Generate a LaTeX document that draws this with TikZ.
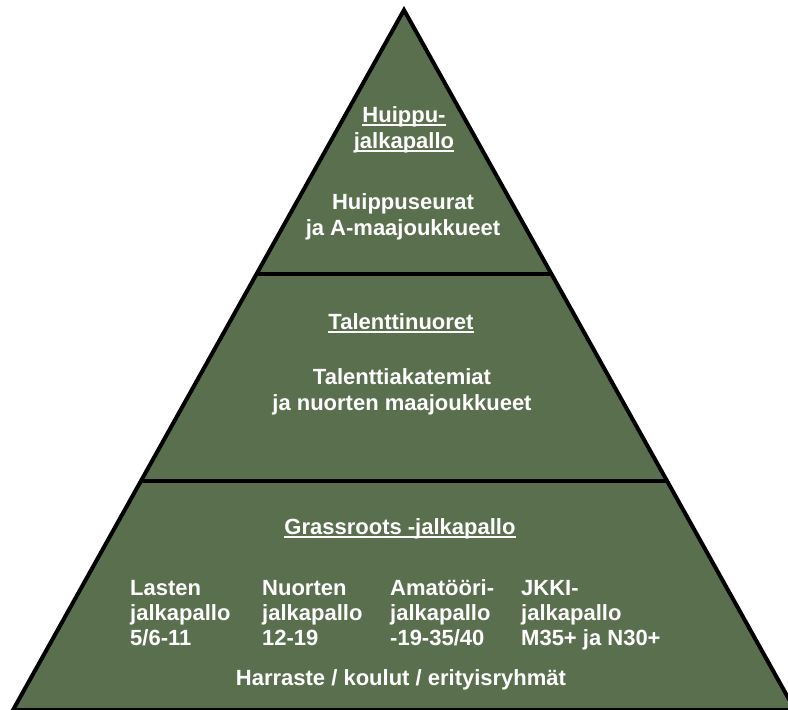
\documentclass[tikz,border=0pt]{standalone}
\usepackage{fontspec}
\setmainfont{Liberation Sans}
\usetikzlibrary{calc}
\definecolor{fieldgreen}{RGB}{90,111,77}
\newsavebox{\ulbuf}
\newcommand{\ulword}[1]{\sbox{\ulbuf}{#1}\rlap{\rule[-4pt]{\wd\ulbuf}{1.8pt}}\usebox{\ulbuf}}
\begin{document}
\begin{tikzpicture}
[x=1pt,y=-1pt,
every node/.style={text=white,inner sep=0pt,font=\bfseries\fontsize{22}{26}\selectfont},
tier/.style={anchor=base,align=center},
group/.style={anchor=base west,align=left,font=\bfseries\fontsize{22}{25}\selectfont}]
\useasboundingbox (0,0) rectangle (788,710);
\coordinate (apex) at (404,10); % top
\coordinate (baseL) at (13,710);
\coordinate (baseR) at (795,710);
\draw[line width=4pt,fill=fieldgreen] (apex) -- (baseR) -- (baseL) -- cycle;
\draw[line width=4pt] ($(apex)!0.3771!(baseL)$) -- ($(apex)!0.3771!(baseR)$);
\draw[line width=4pt] ($(apex)!0.6729!(baseL)$) -- ($(apex)!0.6729!(baseR)$);
% top level
\node[tier] (huippu) at (404,148) {\ulword{Huippu-}\\\ulword{jalkapallo}};
\node[tier] (seurat) at (403,235) {Huippuseurat\\ja A-maajoukkueet};
% middle level
\node[tier] (talentti) at (401,329) {\ulword{Talenttinuoret}};
\node[tier] (akatemiat) at (402,410) {Talenttiakatemiat\\ja nuorten maajoukkueet};
% bottom level
\node[tier] (grassroots) at (400,534) {\ulword{Grassroots -jalkapallo}};
\node[group] (lasten) at (130,645) {Lasten\\jalkapallo\\5/6-11};
\node[group] (nuorten) at (262,645) {Nuorten\\jalkapallo\\12-19};
\node[group] (amatoori) at (390,645) {Amatööri-\\jalkapallo\\-19-35/40};
\node[group] (jkki) at (521,645) {JKKI-\\jalkapallo\\M35+ ja N30+};
\node[tier] (harraste) at (401,685) {Harraste / koulut / erityisryhmät};
\end{tikzpicture}
\end{document}
